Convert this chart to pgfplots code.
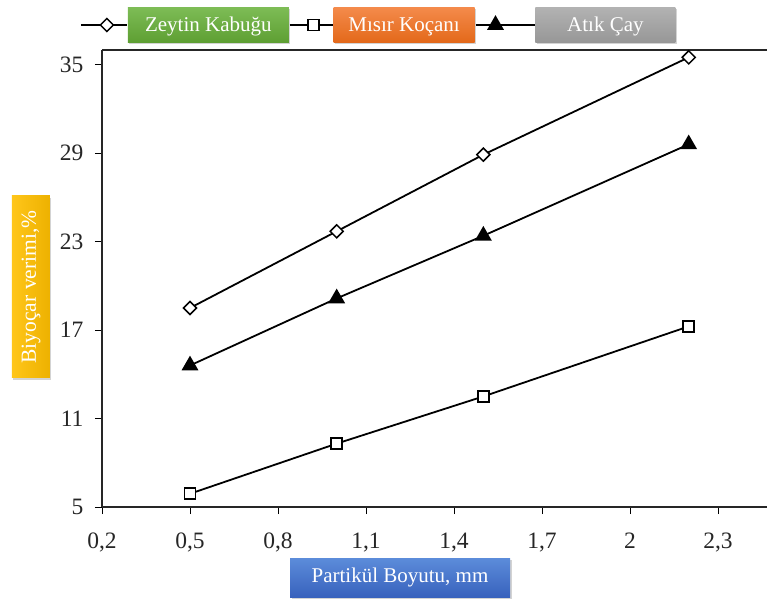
\documentclass[border=0pt]{standalone}
\usepackage{pgfplots}
\pgfplotsset{compat=1.18}
\usepackage{fontspec}
\setmainfont{Liberation Serif}
\usetikzlibrary{shadows}
\definecolor{gtop}{HTML}{7DBC56}
\definecolor{gbot}{HTML}{5E9F33}
\definecolor{otop}{HTML}{F48A4B}
\definecolor{obot}{HTML}{E3691A}
\definecolor{atop}{HTML}{B2B2B2}
\definecolor{abot}{HTML}{979797}
\definecolor{ytop}{HTML}{FFC61A}
\definecolor{ybot}{HTML}{EDB100}
\definecolor{btop}{HTML}{5C8CDA}
\definecolor{bbot}{HTML}{3862BD}
\pgfplotsset{
  legA/.style={legend image code/.code={\draw[##1] (0pt,0pt) -- (46pt,0pt); \draw[##1] plot[only marks] coordinates {(26pt,0pt)};}},
  legB/.style={legend image code/.code={\draw[##1] (0pt,0pt) -- (43pt,0pt); \draw[##1] plot[only marks] coordinates {(24pt,0pt)};}},
  legC/.style={legend image code/.code={\draw[##1] (0pt,0pt) -- (59pt,0pt); \draw[##1] plot[only marks] coordinates {(20pt,0pt)};}},
}
\tikzset{lbox/.style={text=white, minimum height=35pt, drop shadow={opacity=0.35, shadow xshift=1.5pt, shadow yshift=-2pt}}}
\begin{document}
\begin{tikzpicture}
\begin{axis}[
  at={(0pt,0pt)}, anchor=south west,
  scale only axis, width=665pt, height=457pt,
  xmin=0.2, xmax=2.467, ymin=5, ymax=36,
  axis x line*=box, axis y line*=left,
  x axis line style={-}, y axis line style={-},
  axis line style={line width=1.6pt, black!85},
  xtick pos=bottom, ytick pos=left,
  tick align=outside, major tick length=7pt,
  tick style={line width=1pt, black},
  xtick={0.2,0.5,0.8,1.1,1.4,1.7,2.0,2.3},
  xticklabels={{0,2},{0,5},{0,8},{1,1},{1,4},{1,7},{2},{2,3}},
  ytick={5,11,17,23,29,35},
  ticklabel style={font=\fontsize{23.5}{26}\selectfont, text=black!85},
  /pgf/number format/assume math mode=true,
  xticklabel style={yshift=-15pt},
  yticklabel style={xshift=-8pt},
  every axis plot/.append style={line width=1.8pt, black},
  legend columns=3,
  legend style={draw=none, fill=none, inner sep=0pt, outer sep=0pt,
    at={(-22pt,482pt)}, anchor=west, legend cell align=left,
    nodes={inner sep=0pt, outer sep=0pt, font=\fontsize{21}{24}\selectfont},
    /tikz/every even column/.append style={column sep=0pt}},
]
\addplot[legA, mark=square*, mark options={fill=white, rotate=45, line width=1.5pt}, mark size=4.6pt]
  coordinates {(0.5,18.5) (1.0,23.7) (1.5,28.9) (2.2,35.5)};
\addlegendentry[lbox, top color=gtop, bottom color=gbot, minimum width=161pt]{Zeytin Kabuğu}
\addplot[legB, mark=square*, mark options={fill=white, line width=1.5pt}, mark size=5.5pt]
  coordinates {(0.5,5.9) (1.0,9.3) (1.5,12.5) (2.2,17.25)};
\addlegendentry[lbox, top color=otop, bottom color=obot, minimum width=141pt]{Mısır Koçanı}
\addplot[legC, mark=triangle*, mark options={fill=black}, mark size=8pt]
  coordinates {(0.5,14.6) (1.0,19.15) (1.5,23.4) (2.2,29.6)};
\addlegendentry[lbox, top color=atop, bottom color=abot, minimum width=140pt]{Atık Çay}
\end{axis}
\node[rotate=90, left color=ytop, right color=ybot, text=white,
  minimum width=182pt, minimum height=38pt, inner sep=0pt,
  font=\fontsize{21.5}{24}\selectfont,
  drop shadow={opacity=0.35, shadow xshift=1.5pt, shadow yshift=-2pt}]
  at (-71pt,220pt) {Biyoçar verimi,\%};
\node[top color=btop, bottom color=bbot, text=white,
  minimum width=220pt, minimum height=39pt, inner sep=0pt,
  font=\fontsize{21}{24}\selectfont,
  drop shadow={opacity=0.35, shadow xshift=1.5pt, shadow yshift=-2pt}]
  at (298pt,-70.5pt) {Partikül Boyutu, mm};
\pgfresetboundingbox
\path[use as bounding box] (-102pt,-97pt) rectangle (665pt,507pt);
\end{tikzpicture}
\end{document}
